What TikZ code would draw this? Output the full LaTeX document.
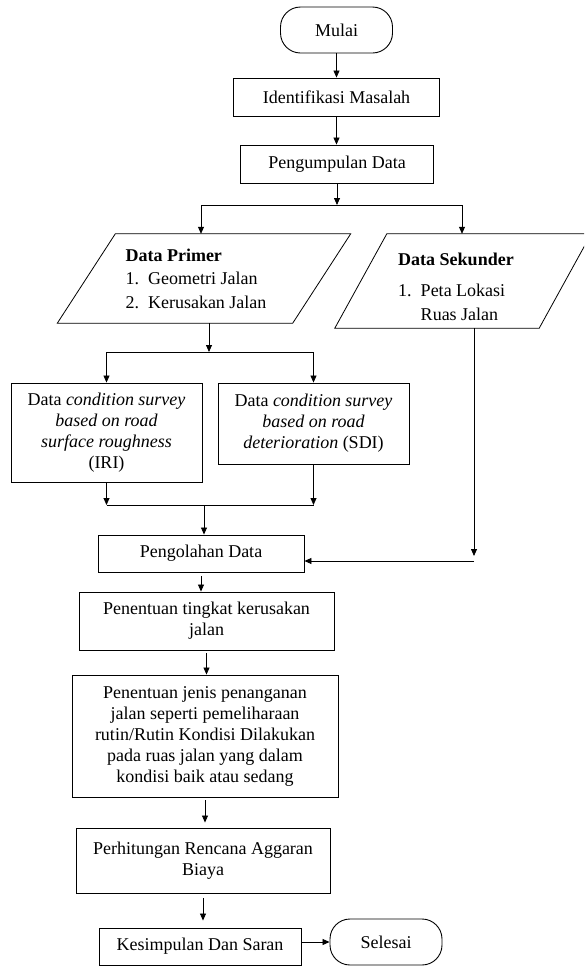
\documentclass[tikz,border=0pt]{standalone}
\usepackage{fontspec}
\setmainfont{Liberation Serif}
\usetikzlibrary{arrows.meta}
\tikzset{
  every node/.style={font=\fontsize{18}{21}\selectfont},
  >={Triangle[length=7pt,width=6pt]},
  Panah/.style={->, line width=0.8pt},
  Garis/.style={line width=0.8pt},
  Proses/.style={draw, line width=0.9pt, align=center, inner sep=2pt},
  Terminal/.style={draw, line width=0.9pt, rounded corners=20pt,
    minimum width=112, minimum height=46},
  Data/.style={inner sep=0pt, align=left, font=\fontsize{18}{23.5}\selectfont}
}

\begin{document}
\begin{tikzpicture}[x=1pt,y=-1pt]
    \useasboundingbox (0,0) rectangle (584,967);

    \node[Terminal] (Mulai) at (336.5,30) {Mulai};
    \node[Proses, minimum width=206, minimum height=38] (Ident) at (336.5,97) {Identifikasi Masalah};
    \node[Proses, minimum width=193, minimum height=38] (Kumpul) at (337,164) {Pengumpulan Data};

    \node[Data, minimum width=235, minimum height=89] (Primer) at (204,278.5)
      {\textbf{Data Primer}\\ 1.\hspace*{9pt}Geometri Jalan\\ 2.\hspace*{9pt}Kerusakan Jalan\hspace*{16pt}};
    \node[Data, minimum width=204, minimum height=94] (Sekunder) at (463,281)
      {\rule{0pt}{24pt}\textbf{Data Sekunder}\hspace*{14pt}\\[8pt] 1.\hspace*{9pt}Peta Lokasi\\ \phantom{1.}\hspace*{9pt}Ruas Jalan};
    \draw[Garis] ([xshift=29]Primer.north west) -- ([xshift=29]Primer.north east)
      -- ([xshift=-29]Primer.south east) -- ([xshift=-29]Primer.south west) -- cycle;
    \begin{scope}
      \clip (0,0) rectangle (584,967);
      \draw[Garis] ([xshift=26]Sekunder.north west) -- ([xshift=26]Sekunder.north east)
        -- ([xshift=-26]Sekunder.south east) -- ([xshift=-26]Sekunder.south west) -- cycle;
    \end{scope}

    \node[Proses, minimum width=191, minimum height=99] (IRI) at (106.5,432.5)
      {Data \textit{condition survey}\\ \textit{based on road}\\ \textit{surface roughness}\\ (IRI)};
    \node[Proses, minimum width=191, minimum height=81] (SDI) at (313.5,423.5)
      {Data \textit{condition survey}\\ \textit{based on road}\\ \textit{deterioration} (SDI)};

    \node[Proses, minimum width=206, minimum height=37] (Olah) at (201,553.5) {Pengolahan Data};
    \node[Proses, minimum width=255, minimum height=58] (Tingkat) at (206.5,621)
      {Penentuan tingkat kerusakan\\ jalan};
    \node[Proses, minimum width=266, minimum height=122] (Jenis) at (205,736)
      {Penentuan jenis penanganan\\ jalan seperti pemeliharaan\\ rutin/Rutin Kondisi Dilakukan\\
       pada ruas jalan yang dalam\\ kondisi baik atau sedang};
    \node[Proses, minimum width=254, minimum height=65] (RAB) at (203,860.5)
      {Perhitungan Rencana Aggaran\\ Biaya};
    \node[Proses, minimum width=202, minimum height=37] (Simpul) at (200,946.5) {Kesimpulan Dan Saran};
    \node[Terminal] (Selesai) at (386,942) {Selesai};

    \coordinate (c1) at (201,205);
    \coordinate (c2) at (462,205);
    \coordinate (b1) at (209,352);
    \coordinate (m1) at (204,505);
    \coordinate (k1) at (474,561);

    \draw[Panah] (Mulai.south) -- (Mulai.south |- Ident.north);
    \draw[Panah] (Ident.south) -- (Ident.south |- Kumpul.north);
    \draw[Panah] (Kumpul.south) -- (Kumpul.south |- c1);
    \draw[Garis] (c1) -- (c2);
    \draw[Panah] (c1) -- (c1 |- Primer.north);
    \draw[Panah] (c2) -- (c2 |- Sekunder.north);

    \draw[Panah] (b1 |- Primer.south) -- (b1);
    \draw[Panah] (b1) -| (IRI.north);
    \draw[Panah] (b1) -| (SDI.north);

    \draw[Panah] (IRI.south) -- (IRI.south |- m1);
    \draw[Panah] (SDI.south) -- (SDI.south |- m1);
    \draw[Garis] (IRI.south |- m1) -- (SDI.south |- m1);
    \draw[Panah] (m1) -- (m1 |- Olah.north);

    \draw[Panah] (k1 |- Sekunder.south) -- ([yshift=5pt]k1);
    \draw[Panah] (k1) -- (k1 -| Olah.east);

    \draw[Panah, shorten <=4pt] (Olah.south) -- (Olah.south |- Tingkat.north);
    \draw[Panah, shorten <=3pt] (Tingkat.south) -- (Tingkat.south |- Jenis.north);
    \draw[Panah, shorten <=3pt, shorten >=5pt] (Jenis.south) -- (Jenis.south |- RAB.north);
    \draw[Panah, shorten <=5pt, shorten >=7pt] (RAB.south) -- (RAB.south |- Simpul.north);
    \draw[Panah] (Simpul.east |- Selesai) -- (Selesai.west);
  \end{tikzpicture}
\end{document}
